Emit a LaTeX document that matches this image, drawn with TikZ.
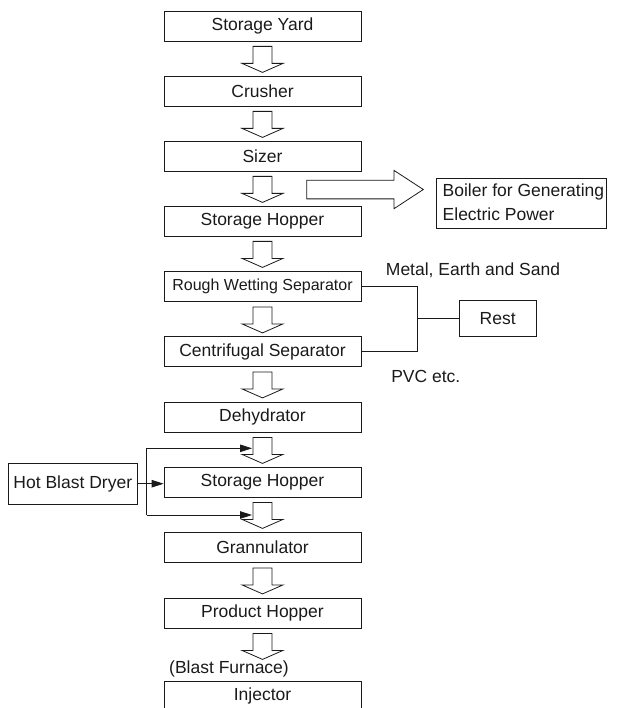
\documentclass[tikz,border=0pt]{standalone}
\usepackage{fontspec}
\setmainfont{Liberation Sans}
\usetikzlibrary{calc,arrows.meta}
\definecolor{ink}{HTML}{1A1A1A}
\tikzset{
  stage/.style={draw=ink, line width=0.8pt, minimum width=197pt, minimum height=30pt, inner sep=0pt, text=ink},
  sidebox/.style={draw=ink, line width=0.8pt, inner sep=0pt, text=ink},
  lbl/.style={inner sep=0pt, text=ink},
  blk/.style={draw=ink, line width=0.8pt, fill=white, line join=miter},
  conn/.style={draw=ink, line width=0.8pt},
  arr/.style={conn, -{Triangle[length=12pt,width=7.5pt]}}
}
\newcommand\blockdown[1]{\draw[blk] ($(#1.south)+(-9.5,5)$) -- ++(19,0) -- ++(0,17) -- ++(11,0) -- ++(-20.5,9) -- ++(-20.5,-9) -- ++(11,0) -- cycle;}
\begin{document}
\begin{tikzpicture}[x=1pt,y=-1pt,font=\fontsize{17.5}{24}\selectfont]
\useasboundingbox (0,0) rectangle (616,708);
\node[stage] (yard) at (262.5,26) {Storage Yard};
\node[stage] (crush) at (262.5,91) {Crusher};
\node[stage] (sizer) at (262.5,156) {Sizer};
\node[stage] (sh1) at (262.5,221) {Storage Hopper};
\node[stage, font=\fontsize{16}{20}\selectfont] (rws) at (262.5,286.5) {Rough Wetting Separator};
\node[stage] (cs) at (262.5,351.5) {Centrifugal Separator};
\node[stage] (dehy) at (262.5,417) {Dehydrator};
\node[stage] (sh2) at (262.5,482) {Storage Hopper};
\node[stage] (gran) at (262.5,547.5) {Grannulator};
\node[stage] (ph) at (262.5,613) {Product Hopper};
\node[stage] (inj) at (262.5,696) {Injector};
\node[lbl] (bf) at (229,669) {(Blast Furnace)};

\blockdown{yard}
\blockdown{crush}
\blockdown{sizer}
\blockdown{sh1}
\blockdown{rws}
\blockdown{cs}
\blockdown{dehy}
\blockdown{sh2}
\blockdown{gran}
\blockdown{ph}

% boiler
\node[sidebox, minimum width=170.3pt, minimum height=50pt, anchor=north west] (boiler) at (435.7,177.7) {};
\node[lbl, anchor=west, align=left] (boilertxt) at (442.5,202.5) {Boiler for Generating\\Electric Power};
\coordinate (ra) at (306.7,189.5);
\draw[blk] ($(ra)+(0,-9.3)$) -- ++(87.3,0) -- ++(0,-9.8) -- ++(29.3,19.1) -- ++(-29.3,19.2) -- ++(0,-9.8) -- ++(-87.3,0) -- cycle;

% rest
\node[sidebox, minimum width=76.7pt, minimum height=36.7pt] (rest) at (497.7,318.3) {Rest};
\coordinate (bj) at (417.7,318.3);
\draw[conn] (rws.east) -| (bj) |- (cs.east);
\draw[conn] (bj) -- (rest.west);
\node[lbl] (metal) at (473,270) {Metal, Earth and Sand};
\node[lbl] (pvc) at (425.8,376) {PVC etc.};

% hot blast dryer
\node[sidebox, minimum width=129pt, minimum height=40.7pt] (hbd) at (72.8,483.7) {Hot Blast Dryer};
\coordinate (jt) at (146.7,448.3);
\coordinate (jb) at (146.7,515);
\coordinate (at) at (252,448.3);
\coordinate (ab) at (252,515);
\draw[arr] (hbd.east) -- (hbd.east -| sh2.west);
\draw[conn] (jt) -- (jb);
\draw[arr] (jt) -- (at);
\draw[arr] (jb) -- (ab);
\end{tikzpicture}
\end{document}
